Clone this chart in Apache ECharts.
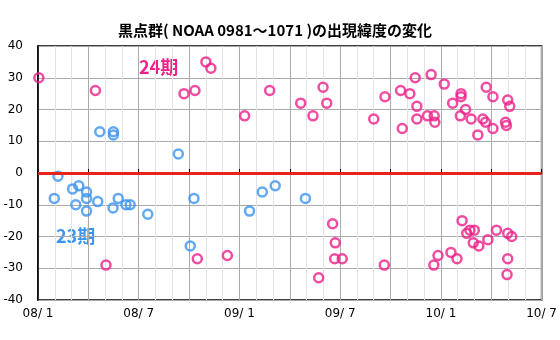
<!DOCTYPE html>
<html>
<head>
<meta charset="utf-8">
<script src="https://cdn.jsdelivr.net/npm/echarts@6/dist/echarts.min.js"></script>
<style>html,body{margin:0;padding:0;background:#fff}#c{width:560px;height:340px}</style>
</head>
<body>
<div id="c"></div>
<script>
// x = months since 2008-01-01, y = latitude (deg)
const xTickLabels = ['08/ 1', '08/ 7', '09/ 1', '09/ 7', '10/ 1', '10/ 7'];
const cycle24 = [
  [0.05, 30], [3.42, 26], [8.7, 25], [9.35, 26], [10.0, 35], [10.3, 33], [12.31, 18], [13.8, 26],
  [15.65, 22], [16.38, 18], [16.98, 27], [17.2, 22], [20.0, 17], [20.67, 24], [21.6, 26], [21.7, 14],
  [22.15, 25], [22.47, 30], [22.57, 21], [22.57, 17], [23.2, 18], [23.42, 31], [23.6, 18], [23.64, 16],
  [24.2, 28], [24.7, 22], [25.2, 25], [25.2, 24], [25.16, 18], [25.47, 20], [25.8, 17], [26.2, 12],
  [26.5, 17], [26.66, 16], [26.7, 27], [27.1, 24], [27.1, 14], [27.98, 23], [28.1, 21], [27.85, 16], [27.9, 15],
  [4.05, -29], [9.49, -27], [11.28, -26], [16.72, -33], [17.55, -16], [17.71, -22], [17.67, -27], [18.12, -27],
  [20.63, -29], [23.58, -29], [23.83, -26], [24.6, -25], [24.96, -27], [25.26, -15], [25.54, -19], [25.73, -18],
  [25.99, -18], [25.93, -22], [26.26, -23], [26.8, -21], [27.31, -18], [27.98, -19], [28.22, -20], [27.98, -27], [27.94, -32]
];
const cycle23 = [
  [3.68, 13], [4.49, 13], [4.49, 12], [8.36, 6],
  [0.97, -8], [1.19, -1], [2.06, -5], [2.43, -4], [2.25, -10], [2.89, -6], [2.89, -8], [2.89, -12],
  [3.56, -9], [4.47, -11], [4.78, -8], [5.24, -10], [5.49, -10], [6.54, -13], [9.07, -23], [9.29, -8],
  [12.6, -12], [13.36, -6], [14.13, -4], [15.93, -8]
];
const titleText = '黒点群( NOAA 0981〜1071 )の出現緯度の変化';

const PINK = '#ec2189', BLUE = '#3b94ee';
const chart = echarts.init(document.getElementById('c'), null, {renderer: 'canvas'});
function sc(data, color) {
  return {
    type: 'scatter', data: data, symbol: 'circle', symbolSize: 9,
    itemStyle: {color: 'rgba(0,0,0,0)', borderColor: color, borderWidth: 2.5},
    z: 3
  };
}
const s24 = sc(cycle24, PINK);
s24.markLine = {
  silent: true, symbol: 'none', label: {show: false},
  lineStyle: {color: '#e8231f', width: 3, type: 'solid'},
  data: [{yAxis: 0}]
};
chart.setOption({
  animation: false,
  title: {text: titleText, left: 270, top: 18, textAlign: 'center',
    textStyle: {fontFamily: 'Noto Sans CJK JP', fontSize: 15, fontWeight: 'bold', color: '#000'}},
  grid: {left: 38, right: 16, top: 46, bottom: 40, show: true, borderColor: '#000', borderWidth: 1.5, backgroundColor: 'transparent'},
  xAxis: {
    type: 'value', min: 0, max: 30, interval: 3,
    axisLine: {show: true, lineStyle: {color: '#000', width: 1.5}},
    axisTick: {show: true, inside: true, length: 4, lineStyle: {color: '#000'}},
    minorTick: {show: false, splitNumber: 3},
    splitLine: {show: true, lineStyle: {color: '#aaa', width: 1}},
    minorSplitLine: {show: true, lineStyle: {color: '#e3e3e3', width: 1}},
    axisLabel: {margin: 8, fontFamily: 'DejaVu Sans', fontSize: 12, color: '#000',
      formatter: v => (v % 6 === 0 ? xTickLabels[v / 6] : '')}
  },
  yAxis: {
    type: 'value', min: -40, max: 40, interval: 10,
    axisLine: {show: true, lineStyle: {color: '#000', width: 1.5}},
    axisTick: {show: false},
    splitLine: {show: true, lineStyle: {color: '#aaa', width: 1}},
    axisLabel: {margin: 15, fontFamily: 'DejaVu Sans', fontSize: 12, color: '#000'}
  },
  graphic: [
    {type: 'text', left: 139, top: 58, style: {text: '24期', fill: PINK, font: 'bold 18px "Noto Sans CJK JP"'}},
    {type: 'text', left: 56, top: 227, style: {text: '23期', fill: BLUE, font: 'bold 18px "Noto Sans CJK JP"'}}
  ],
  series: [s24, sc(cycle23, BLUE)]
});
</script>
</body>
</html>
